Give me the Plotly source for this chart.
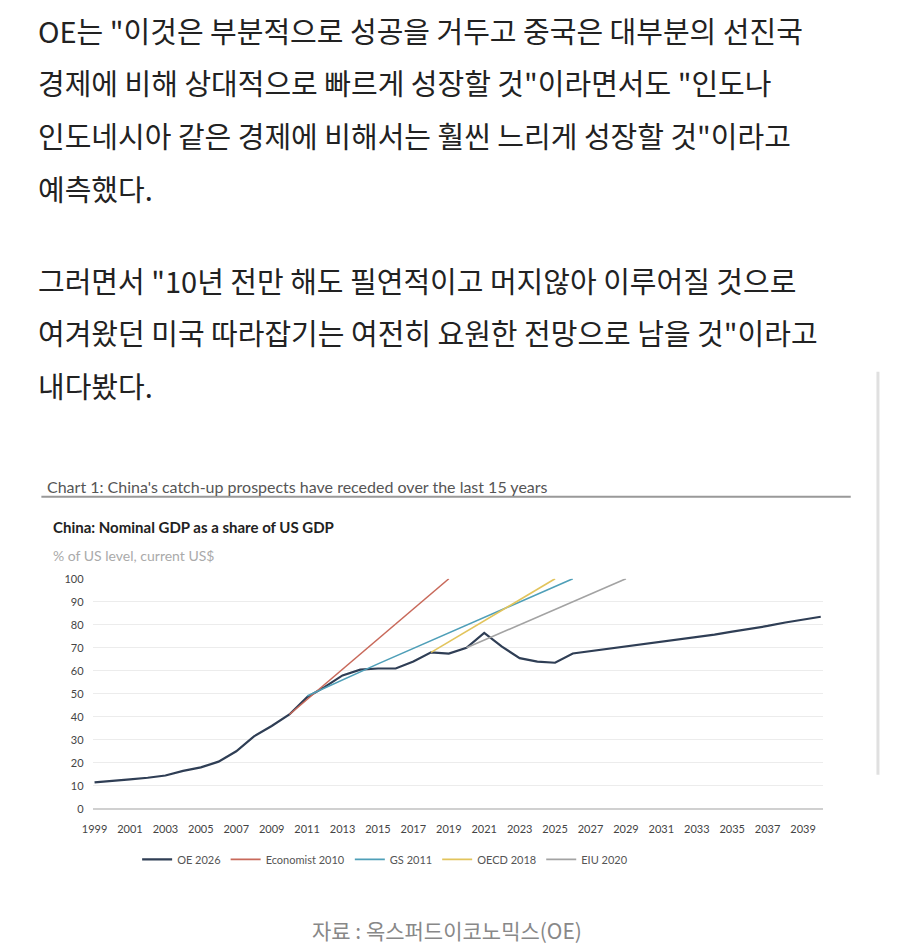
import plotly.graph_objects as go

oe_years = list(range(1999, 2041))
oe_vals = [11.5, 12, 12.8, 13.5, 14.5, 16.5, 18, 20.5, 25, 31.5, 36, 41, 48.5, 53, 58, 60.5, 61, 61, 64, 68,
           67.5, 70, 76.5, 70.5, 65.5, 64, 63.5, 67.5, 68.5, 69.5, 70.5, 71.5, 72.5, 73.5, 74.5, 75.7, 77, 78.2,
           79.5, 81, 82.2, 83.5]
eco_years = [2010, 2019]
eco_vals = [41, 100]
gs_years = [2011, 2012, 2013, 2014, 2015, 2026]
gs_vals = [49, 52.5, 56, 59.5, 63, 100]
oecd_years = [2018, 2025]
oecd_vals = [68, 100]
eiu_years = [2020, 2029]
eiu_vals = [70, 100]

series = [("OE 2026", oe_years, oe_vals, "#2f3e55", 2.2),
          ("Economist 2010", eco_years, eco_vals, "#c8695a", 1.6),
          ("GS 2011", gs_years, gs_vals, "#4f9fb8", 1.6),
          ("OECD 2018", oecd_years, oecd_vals, "#e2c45c", 1.6),
          ("EIU 2020", eiu_years, eiu_vals, "#a3a3a3", 1.6)]

fig = go.Figure()
for name, xs, ys, col, w in series:
    fig.add_trace(go.Scatter(x=xs, y=ys, mode="lines", name=name, line=dict(color=col, width=w)))

W, H = 900, 948
def px(p): return ((p - 22.8) / 0.98) / W
def py(p): return 1 - ((p - 15.4) / 0.986) / H

fig.update_layout(
    width=W, height=H, margin=dict(l=0, r=0, t=0, b=0),
    paper_bgcolor="white", plot_bgcolor="white", showlegend=True,
    legend=dict(orientation="h", x=px(140), y=py(845), xanchor="left", yanchor="top",
                font=dict(family="Lato", size=11, color="#555"), itemwidth=30, tracegroupgap=0),
    xaxis=dict(domain=[px(96), px(820)], range=[1998.9, 2040.1], tickmode="array",
               tickvals=list(range(1999, 2040, 2)), showgrid=False, zeroline=False,
               tickfont=dict(family="Lato", size=11, color="#444"), ticks="outside", ticklen=10,
               tickcolor="rgba(0,0,0,0)", showline=False),
    yaxis=dict(domain=[py(809), py(579)], range=[0, 100], dtick=10, showgrid=True,
               gridcolor="#ececec", zeroline=True, zerolinecolor="#d0d0d0", zerolinewidth=2,
               tickfont=dict(family="Lato", size=11, color="#444"), ticks="outside", ticklen=6,
               tickcolor="rgba(0,0,0,0)"),
)

para = ['OE는 "이것은 부분적으로 성공을 거두고 중국은 대부분의 선진국',
        '경제에 비해 상대적으로 빠르게 성장할 것"이라면서도 "인도나',
        '인도네시아 같은 경제에 비해서는 훨씬 느리게 성장할 것"이라고',
        '예측했다.']
para2 = ['그러면서 "10년 전만 해도 필연적이고 머지않아 이루어질 것으로',
         '여겨왔던 미국 따라잡기는 여전히 요원한 전망으로 남을 것"이라고',
         '내다봤다.']
ann = []
kf = dict(family="Noto Sans CJK KR", size=29, color="#222")
for i, t in enumerate(para):
    ann.append(dict(text=t, x=px(40), y=py(30 + i * 52.7), xref="paper", yref="paper", xanchor="left",
                    yanchor="middle", showarrow=False, font=kf))
for i, t in enumerate(para2):
    ann.append(dict(text=t, x=px(40), y=py(280 + i * 52.7), xref="paper", yref="paper", xanchor="left",
                    yanchor="middle", showarrow=False, font=kf))
ann += [
    dict(text="Chart 1: China's catch-up prospects have receded over the last 15 years", x=px(49), y=py(487),
         xref="paper", yref="paper", xanchor="left", yanchor="middle", showarrow=False,
         font=dict(family="Lato", size=16, color="#555")),
    dict(text="<b>China: Nominal GDP as a share of US GDP</b>", x=px(55), y=py(527), xref="paper", yref="paper",
         xanchor="left", yanchor="middle", showarrow=False, font=dict(family="Lato", size=15, color="#222")),
    dict(text="% of US level, current US$", x=px(55), y=py(556), xref="paper", yref="paper",
         xanchor="left", yanchor="middle", showarrow=False, font=dict(family="Lato", size=14, color="#aaa")),
    dict(text="자료 : 옥스퍼드이코노믹스(OE)", x=px(447), y=py(930), xref="paper", yref="paper",
         xanchor="center", yanchor="middle", showarrow=False,
         font=dict(family="Noto Sans CJK KR", size=21, color="#888")),
]
fig.update_layout(annotations=ann)
fig.add_shape(type="line", xref="paper", yref="paper", x0=px(45), x1=px(848), y0=py(497), y1=py(497),
              line=dict(color="#999", width=2))
fig.add_shape(type="line", xref="paper", yref="paper", x0=px(875), x1=px(875), y0=py(372), y1=py(775),
              line=dict(color="#e0e0e0", width=3))
fig.write_html("out.html")
